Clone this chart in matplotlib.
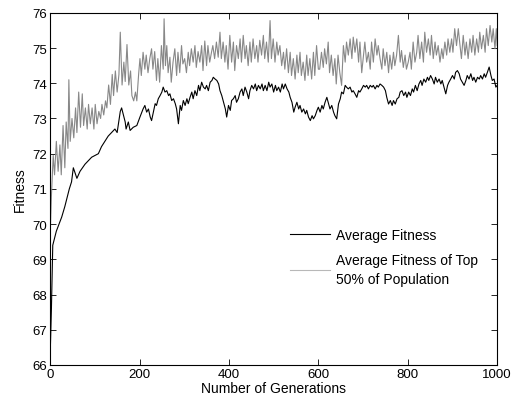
import matplotlib
matplotlib.use("Agg")
import matplotlib.pyplot as plt

plt.rcParams['font.family'] = ['Liberation Sans', 'DejaVu Sans']

# average fitness of the whole population
avg_gen = [0, 3, 6, 14, 26, 33, 43, 48, 52, 60, 67, 78, 93, 108, 115, 130, 145, 150,
           157, 160, 168, 170, 175,
           179, 186, 194, 201, 208, 212, 216, 220, 224, 227, 231, 235, 238, 242, 246,
           250, 253, 257, 261, 265, 268, 272, 276, 280, 283, 287, 291, 294, 298, 302,
           306, 309, 313, 317, 320, 324, 328, 332, 335, 339, 343, 347, 350, 354, 358,
           362, 365, 369, 373, 377, 380, 384, 388, 392, 395, 399, 403, 406, 410, 414,
           417, 421, 425, 429, 432, 436, 440, 444, 447, 451, 455, 459, 462, 466, 470,
           474, 477, 481, 485, 489, 492, 496, 500, 504, 507, 511, 515, 519, 522, 526,
           530, 534, 537, 541, 545, 548, 552, 556, 559, 563, 567, 571, 574, 578, 582,
           586, 589,
           593, 597, 600, 604, 608, 611, 615, 619, 623, 626, 630, 634, 637, 641, 645,
           649, 652, 656, 660, 663, 667, 671, 675, 678, 682, 686, 690, 693, 697, 701,
           705, 708, 712, 716, 720, 723, 727, 731, 734, 738, 742, 746, 750, 753, 757,
           761, 765, 768, 772, 776, 780, 783, 787, 791, 795, 798, 802, 806, 810, 813,
           817, 821, 825, 829, 832, 836, 840, 844, 847, 851, 855, 859, 862, 866, 870,
           874, 877, 881, 885, 889, 892, 896, 900, 904, 907, 911, 915, 918, 922, 926,
           930, 933, 937, 941, 945, 948, 952, 956, 960, 963, 967, 971, 974, 978, 982,
           986, 989, 993, 997, 1000]
avg_fit = [66.2, 67.6, 69.4, 69.8, 70.2, 70.5, 71.0, 71.2, 71.6, 71.3, 71.5, 71.7, 71.9,
           72.0, 72.2, 72.5, 72.7, 72.6, 73.2, 73.3, 72.9, 72.7, 72.9,
           72.66, 72.75, 72.8, 73.04, 73.27, 73.37, 73.18, 73.27, 73.04, 72.94, 73.18,
           73.42, 73.37, 73.56, 73.65, 73.75, 73.89, 73.75, 73.79, 73.65, 73.7, 73.51,
           73.56, 73.42, 73.27, 72.85, 73.37, 73.23, 73.51, 73.37, 73.56, 73.42, 73.6,
           73.75, 73.56, 73.79, 73.65, 73.94, 73.79, 74.03, 73.89, 73.84, 73.94, 73.79,
           74.03, 74.08, 74.17, 74.12, 74.08, 73.98, 73.79, 73.65, 73.46, 73.27, 73.04,
           73.37, 73.23, 73.51, 73.56, 73.65, 73.46, 73.56, 73.75, 73.84, 73.65, 73.89,
           73.75, 73.56, 73.79, 73.94, 73.84, 73.98, 73.79, 73.94, 73.84, 73.98, 73.79,
           73.94, 73.79, 74.03, 73.89, 73.98, 73.75, 73.94, 73.79, 73.89, 73.75, 73.98,
           73.84, 73.98, 73.84, 73.75, 73.6, 73.46, 73.18, 73.32, 73.46, 73.27, 73.37,
           73.18, 73.27, 73.13, 73.23, 73.04, 72.94, 73.08, 72.99,
           73.08, 73.23, 73.32, 73.18, 73.37, 73.27, 73.46, 73.6, 73.41, 73.27, 73.37,
           73.18, 73.08, 72.99, 73.41, 73.56, 73.75, 73.7, 73.94, 73.89, 73.84, 73.89,
           73.75, 73.79, 73.7, 73.6, 73.79, 73.75, 73.84, 73.94, 73.89, 73.94, 73.84,
           73.94, 73.89, 73.94, 73.84, 73.94, 73.89, 73.98, 73.94, 73.89, 73.79, 73.6,
           73.41, 73.51, 73.37, 73.51, 73.41, 73.56, 73.6, 73.75, 73.79, 73.65, 73.75,
           73.6, 73.75, 73.65, 73.84, 73.75, 73.94, 73.79, 73.98, 74.08, 73.94, 74.12,
           74.03, 74.17, 74.08, 74.22, 74.12, 73.98, 74.17, 74.03, 74.12, 73.98, 74.08,
           73.89, 73.7, 73.94, 74.03, 74.12, 74.22, 74.12, 74.31, 74.36, 74.27, 74.12,
           74.03, 73.94, 74.08, 74.22, 74.12, 74.27, 74.08, 74.17, 74.03, 74.17, 74.12,
           74.22, 74.12, 74.27, 74.17, 74.31, 74.46, 74.22, 74.08, 74.12, 73.89, 73.94]

# average fitness of the best half of the population
top_gen = [0, 3, 7, 10, 14, 18, 22, 25, 29, 33, 36, 40, 42, 45, 49, 53, 57, 60, 64, 68,
           72, 75, 79, 83, 86, 90, 94, 98, 101, 105, 109, 113, 116, 120, 124, 127, 131,
           135, 139, 142, 146, 150, 154, 157, 161, 165, 168, 172, 176, 180, 183, 187,
           191, 194, 198, 201, 204, 208, 212, 215, 219, 223, 227, 230, 234, 238, 241,
           245, 249, 253, 255, 258, 261, 264, 268, 271, 275, 279, 283, 286, 290, 294,
           297, 301, 305, 309, 312, 316, 320, 324, 327, 331, 335, 339, 342, 346, 350,
           353, 357, 361, 364, 368, 372, 376, 380, 383, 387, 391, 394, 398, 402, 406,
           410, 413, 417, 421, 425, 428, 432, 436, 439, 443, 447, 450, 454, 458, 462,
           465, 469, 473, 477, 480, 484, 488, 492, 495, 499, 503, 507, 510, 514, 518,
           522, 525, 529, 533, 537, 540, 544, 548, 552, 555, 559, 562, 566, 570, 574,
           577, 581, 585, 589, 592, 596, 600, 603, 607, 611, 614, 618, 622, 625, 629,
           633, 637, 640, 644, 648, 652, 656, 660, 663, 667, 671, 675, 678, 682, 686,
           690, 693, 697, 701, 704, 708, 712, 716, 719, 723, 727, 731, 734, 738, 742,
           745, 749, 753, 757, 760, 764, 768, 771, 775, 779, 783, 786, 790, 794, 797,
           801, 805, 808, 812, 816, 820, 823, 827, 831, 835, 838, 842, 846, 850, 853,
           857, 861, 864, 868, 872, 876, 879, 883, 887, 890, 894, 898, 901, 905, 909,
           913, 916, 920, 924, 928, 931, 935, 939, 943, 946, 950, 954, 958, 961, 965,
           969, 973, 976, 980, 984, 988, 991, 995, 998, 1000]
top_fit = [69.6, 70.8, 71.95, 71.4, 72.35, 71.5, 72.25, 71.4, 72.8, 71.6, 72.9, 72.15,
           74.1, 72.35, 73.0, 72.45, 73.3, 72.6, 73.75, 72.75, 73.7, 72.8, 73.3, 72.7,
           73.4, 72.85, 73.3, 72.7, 73.4, 72.85, 73.2, 73.0, 73.4, 73.1, 73.5, 73.3,
           73.95, 73.4, 74.25, 73.65, 74.35, 73.75, 74.25, 75.45, 73.95, 74.6, 74.05,
           75.1, 73.95, 74.35, 73.65, 73.5, 73.75, 73.5, 74.25, 74.7, 74.22, 74.88, 74.4,
           74.8, 74.3, 74.7, 74.98, 74.4, 74.9, 74.08, 74.7, 74.03, 75.07, 74.4, 75.83,
           74.5, 75.07, 74.3, 74.74, 74.03, 74.6, 74.98, 74.22, 74.88, 74.3, 75.07, 74.55,
           74.7, 74.3, 74.88, 74.5, 74.98, 74.6, 75.07, 74.45, 74.9, 74.6, 75.07, 74.36,
           75.2, 74.5, 75.07, 74.6, 74.88, 75.07, 74.7, 75.17, 74.74, 75.45, 74.7, 75.17,
           74.6, 75.07, 74.4, 75.36, 74.6, 75.17, 74.36, 75.07, 74.7, 75.26, 74.6, 75.36,
           74.7, 75.07, 74.5, 75.17, 74.6, 75.26, 74.7, 75.07, 74.6, 75.22, 74.8, 75.36,
           74.7, 75.17, 74.6, 75.78, 74.7, 75.26, 74.6, 75.17, 74.8, 75.07, 74.5, 74.88,
           74.4, 74.98, 74.3, 74.88, 74.22, 74.7, 74.12, 74.8, 74.3, 74.88, 74.22, 74.6,
           74.08, 74.8, 74.22, 74.7, 74.12, 74.88, 74.22, 75.07, 74.4, 74.4, 74.88,
           74.45, 74.98, 74.55, 75.17, 74.3, 74.8, 74.22, 74.7, 73.98, 74.8, 74.3, 73.94,
           75.07, 74.6, 75.17, 74.8, 75.26, 74.7, 75.31, 74.88, 75.26, 74.6, 75.17, 74.3,
           74.8, 75.17, 74.6, 74.88, 74.4, 75.17, 74.6, 75.26, 74.8, 75.07, 74.7, 74.4,
           74.98, 74.5, 74.88, 74.3, 74.8, 74.4, 74.88, 74.5, 74.8, 75.36, 74.6, 74.93,
           74.45, 74.8, 74.4, 74.6, 74.88, 74.4, 75.17, 74.6, 74.88, 75.36, 74.7, 75.17,
           74.6, 75.45, 74.88, 75.26, 74.8, 75.36, 74.7, 75.17, 74.8, 75.07, 74.6, 74.98,
           74.7, 75.17, 74.8, 75.26, 74.88, 75.26, 74.88, 75.55, 75.07, 75.55, 75.17,
           74.7, 75.36, 74.8, 75.17, 74.7, 75.26, 74.88, 75.36, 74.8, 75.26, 74.88, 75.45,
           74.98, 75.36, 74.88, 75.55, 75.07, 75.64, 75.17, 75.55, 74.98, 75.55, 75.07]

fig = plt.figure(figsize=(5.11, 4.02), dpi=100)
ax = fig.add_axes([0.098, 0.0896, 0.875, 0.876])

ax.plot(avg_gen, avg_fit, color='black', lw=0.8, label='Average Fitness')
ax.plot(top_gen, top_fit, color='#888888', lw=0.8,
        label='Average Fitness of Top\n50% of Population')

ax.set_xlim(0, 1000)
ax.set_ylim(66, 76)
ax.set_xticks(range(0, 1001, 200))
ax.set_yticks(range(66, 77))
ax.tick_params(direction='in', top=True, right=True, length=4, width=0.6,
               labelsize=9.5, pad=2)
for s in ax.spines.values():
    s.set_linewidth(0.8)

ax.set_xlabel('Number of Generations', fontsize=10, labelpad=1)
ax.set_ylabel('Fitness', fontsize=10, labelpad=4)

leg = ax.legend(loc='upper left', bbox_to_anchor=(0.537, 0.39), frameon=False,
                fontsize=10, handlelength=2.9, handletextpad=0.43,
                labelspacing=0.8, borderaxespad=0, borderpad=0)
leg.get_lines()[1].set_color('#b8b8b8')
leg.get_texts()[1].set_linespacing(1.5)

fig.savefig('out.png', dpi=100)
